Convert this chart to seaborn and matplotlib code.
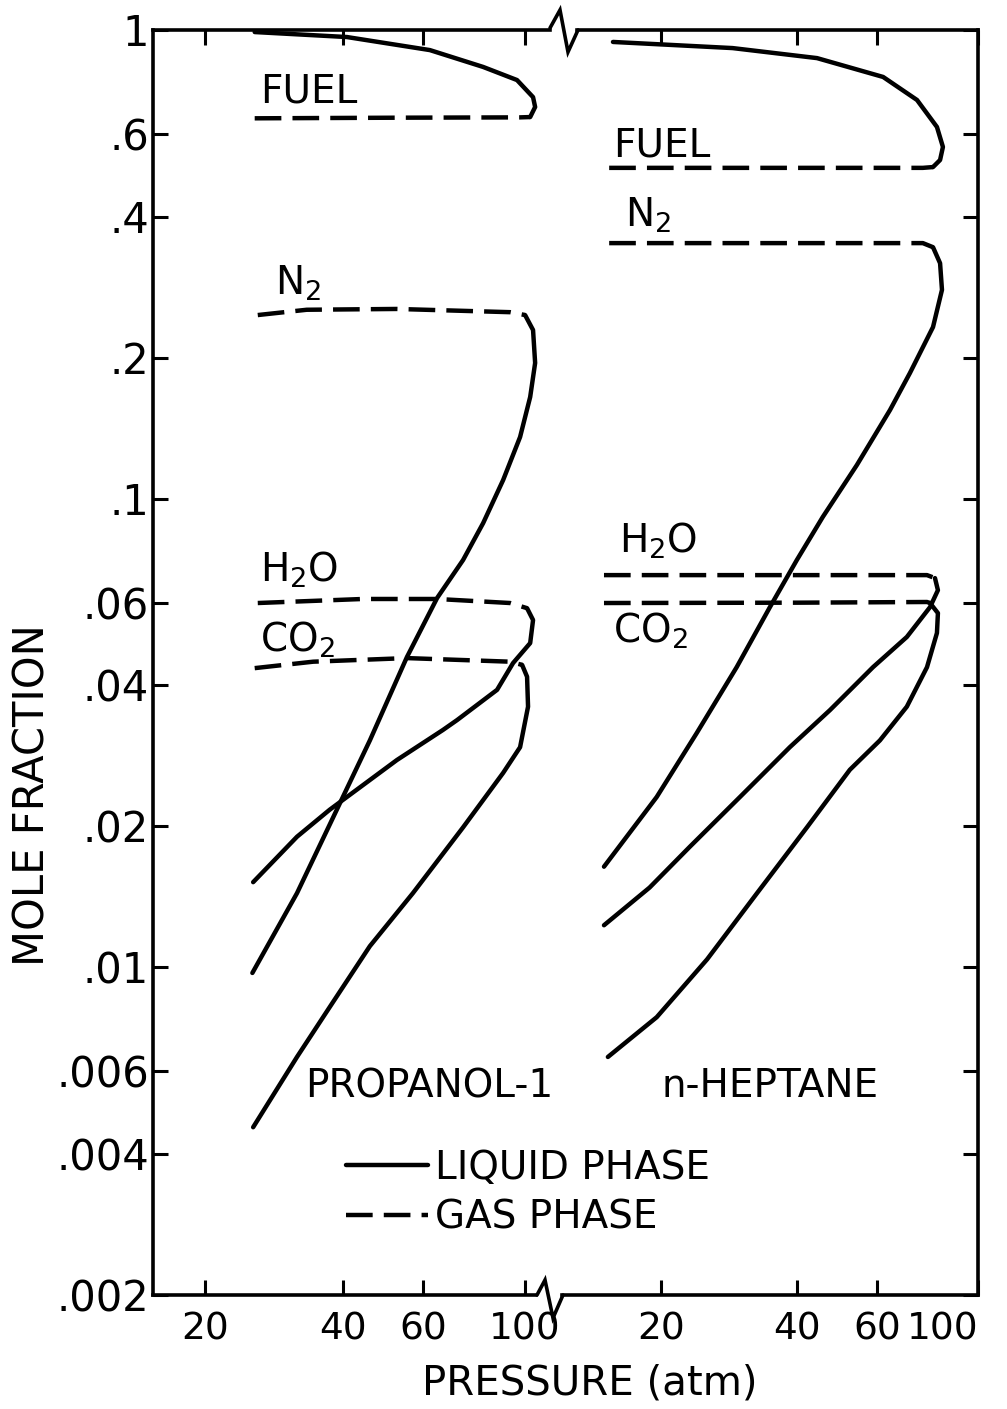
import numpy as np
import pandas as pd
import seaborn as sns
import matplotlib.pyplot as plt
from matplotlib.lines import Line2D
from matplotlib.ticker import NullLocator

# --- PROPANOL-1 : pressure (atm) / mole fraction ---
prop_fuel_liq_p = [25.7, 40.9, 62.1, 81.2, 96.3, 104.4, 105.5, 102.9]
prop_fuel_liq_y = [0.990, 0.966, 0.906, 0.834, 0.782, 0.719, 0.685, 0.652]
prop_fuel_gas_p = [25.7, 53.4, 97.8, 102.9]
prop_fuel_gas_y = [0.648, 0.650, 0.651, 0.652]

prop_n2_gas_p = [26.1, 33.4, 52.6, 93.0, 100.3]
prop_n2_gas_y = [0.2465, 0.253, 0.254, 0.250, 0.2465]
prop_n2_liq_p = [100.3, 104.4, 105.5, 102.9, 97.8, 89.8, 81.2, 73.4, 64.4, 55.3, 45.9, 31.8, 25.4]
prop_n2_liq_y = [0.2465, 0.229, 0.1948, 0.1648, 0.1354, 0.1096, 0.0887, 0.0740, 0.0614, 0.0459, 0.0305,
                 0.0144, 0.00973]

prop_h2o_gas_p = [26.1, 44.3, 64.4, 93.0, 101.3]
prop_h2o_gas_y = [0.0599, 0.0611, 0.0611, 0.0599, 0.0584]
prop_h2o_liq_p = [101.3, 104.4, 102.9, 94.4, 87.1, 71.2, 66.3, 52.6, 37.5, 31.8, 25.5]
prop_h2o_liq_y = [0.0584, 0.0551, 0.0492, 0.0446, 0.0391, 0.0337, 0.0321, 0.0277, 0.0217, 0.0190, 0.0152]

prop_co2_gas_p = [25.7, 34.5, 55.3, 93.0, 98.8]
prop_co2_gas_y = [0.0435, 0.0449, 0.0457, 0.0449, 0.0442]
prop_co2_liq_p = [98.8, 101.3, 101.8, 97.8, 89.8, 73.4, 57.0, 45.9, 37.5, 31.8, 25.5]
prop_co2_liq_y = [0.0442, 0.0417, 0.0360, 0.0295, 0.0260, 0.0199, 0.0144, 0.0111, 0.00823, 0.00644, 0.00456]

# --- n-HEPTANE ---
hept_fuel_liq_p = [15.7, 28.8, 44.2, 61.8, 73.4, 81.2, 83.7, 82.5, 79.6]
hept_fuel_liq_y = [0.943, 0.915, 0.871, 0.794, 0.709, 0.621, 0.563, 0.528, 0.510]
hept_fuel_gas_p = [15.4, 40.0, 75.6, 79.6]
hept_fuel_gas_y = [0.508, 0.508, 0.508, 0.510]

hept_n2_gas_p = [15.4, 40.0, 75.6, 79.6]
hept_n2_gas_y = [0.351, 0.351, 0.351, 0.344]
hept_n2_liq_p = [79.6, 82.5, 83.3, 79.6, 70.8, 64.0, 54.1, 45.5, 39.9, 34.8, 29.4, 24.0, 19.6, 15.0]
hept_n2_liq_y = [0.344, 0.318, 0.279, 0.2324, 0.1854, 0.1546, 0.1180, 0.0914, 0.0740, 0.0587, 0.0437,
                 0.0316, 0.0231, 0.0164]

hept_h2o_gas_p = [15.0, 40.0, 77.2, 80.4]
hept_h2o_gas_y = [0.0687, 0.0687, 0.0687, 0.0677]
hept_h2o_liq_p = [80.4, 81.6, 78.4, 69.7, 58.7, 47.2, 38.5, 29.9, 23.2, 18.9, 15.0]
hept_h2o_liq_y = [0.0677, 0.0638, 0.0587, 0.0507, 0.0437, 0.0354, 0.0295, 0.0231, 0.0181, 0.0148, 0.0123]

hept_co2_gas_p = [15.0, 40.0, 77.2, 78.4]
hept_co2_gas_y = [0.0599, 0.0600, 0.0602, 0.0599]
hept_co2_liq_p = [78.4, 81.6, 81.2, 77.2, 69.7, 60.8, 52.2, 42.0, 32.6, 25.3, 19.6, 15.3]
hept_co2_liq_y = [0.0599, 0.0570, 0.0517, 0.0437, 0.0360, 0.0305, 0.0264, 0.0199, 0.0144, 0.0104, 0.00783, 0.00644]

y_ticks = [1, 0.6, 0.4, 0.2, 0.1, 0.06, 0.04, 0.02, 0.01, 0.006, 0.004, 0.002]
y_labels = ['1', '.6', '.4', '.2', '.1', '.06', '.04', '.02', '.01', '.006', '.004', '.002']
x_ticks = [20, 40, 60, 100]
x_labels = ['20', '40', '60', '100']

sns.set_style("ticks")
plt.rcParams['font.family'] = ['DejaVu Sans']
for k in ('text.color', 'axes.labelcolor', 'xtick.color', 'ytick.color', 'axes.edgecolor'):
    plt.rcParams[k] = 'black'
FS = 28
W, H = 1007, 1409

fig = plt.figure(figsize=(W / 100, H / 100), dpi=100)
bot, top = 1 - 1295 / H, 1 - 30 / H
ax1 = fig.add_axes([153 / W, bot, (555 - 153) / W, top - bot])
ax2 = fig.add_axes([555 / W, bot, (978 - 555) / W, top - bot])

DASH = (0, (6, 2.5))


def curve(ax, p, y, dashed=False, label=None):
    sns.lineplot(x=p, y=y, ax=ax, sort=False, estimator=None, color='black', linewidth=3.2,
                 linestyle=DASH if dashed else '-', label=label)


for ax in (ax1, ax2):
    ax.set_xscale('log')
    ax.set_yscale('log')

curve(ax1, prop_fuel_liq_p, prop_fuel_liq_y, label='LIQUID PHASE')
curve(ax1, prop_fuel_gas_p, prop_fuel_gas_y, dashed=True, label='GAS PHASE')
curve(ax1, prop_n2_liq_p, prop_n2_liq_y)
curve(ax1, prop_n2_gas_p, prop_n2_gas_y, dashed=True)
curve(ax1, prop_h2o_liq_p, prop_h2o_liq_y)
curve(ax1, prop_h2o_gas_p, prop_h2o_gas_y, dashed=True)
curve(ax1, prop_co2_liq_p, prop_co2_liq_y)
curve(ax1, prop_co2_gas_p, prop_co2_gas_y, dashed=True)

curve(ax2, hept_fuel_liq_p, hept_fuel_liq_y)
curve(ax2, hept_fuel_gas_p, hept_fuel_gas_y, dashed=True)
curve(ax2, hept_n2_liq_p, hept_n2_liq_y)
curve(ax2, hept_n2_gas_p, hept_n2_gas_y, dashed=True)
curve(ax2, hept_h2o_liq_p, hept_h2o_liq_y)
curve(ax2, hept_h2o_gas_p, hept_h2o_gas_y, dashed=True)
curve(ax2, hept_co2_liq_p, hept_co2_liq_y)
curve(ax2, hept_co2_gas_p, hept_co2_gas_y, dashed=True)

h, l = ax1.get_legend_handles_labels()
for ax in (ax1, ax2):
    if ax.get_legend() is not None:
        ax.get_legend().remove()

ax1.set_xlim(15.4, 116.6)
ax2.set_xlim(11.7, 100)
for ax in (ax1, ax2):
    ax.set_ylim(0.002, 1)
    ax.set_yticks(y_ticks)
    ax.set_yticklabels(y_labels)
    ax.set_xticks(x_ticks)
    ax.set_xticklabels(x_labels)
    ax.xaxis.set_minor_locator(NullLocator())
    ax.yaxis.set_minor_locator(NullLocator())
    ax.tick_params(direction='in', length=11, width=2.2, top=True)
    ax.tick_params(axis='x', pad=12, labelsize=27)
    ax.tick_params(axis='y', pad=3, labelsize=30)
    for s in ax.spines.values():
        s.set_linewidth(2.6)
    ax.set_xlabel('')
    ax.set_ylabel('')
    ax.patch.set_alpha(0)

ax1.tick_params(right=False)
ax2.tick_params(left=False, labelleft=False, right=True)
ax1.spines['right'].set_visible(False)
ax2.spines['left'].set_visible(False)
ax1.spines['top'].set_bounds(15.4, 113.8)
ax1.spines['bottom'].set_bounds(15.4, 106.0)
ax2.spines['top'].set_bounds(13.1, 100)
ax2.spines['bottom'].set_bounds(12.1, 100)
ax2.get_xticklabels()[-1].set_horizontalalignment('right')

# axis break marks
for xs, ys in (([550, 560, 568, 578], [28, 10, 52, 30]),
               ([537, 545, 553, 563], [1295, 1280, 1318, 1295])):
    fig.add_artist(Line2D(np.array(xs) / W, 1 - np.array(ys) / H, color='black', lw=2.6,
                          transform=fig.transFigure, solid_joinstyle='miter'))

# curve labels
ax1.text(26.4, 0.699, 'FUEL', fontsize=FS, va='baseline')
ax1.text(28.5, 0.272, 'N$_2$', fontsize=FS, va='baseline')
ax1.text(26.4, 0.0664, 'H$_2$O', fontsize=FS, va='baseline')
ax1.text(26.4, 0.0471, 'CO$_2$', fontsize=FS, va='baseline')
ax1.text(33.1, 0.00529, 'PROPANOL-1', fontsize=FS, va='baseline')

ax2.text(15.7, 0.536, 'FUEL', fontsize=FS, va='baseline')
ax2.text(16.7, 0.380, 'N$_2$', fontsize=FS, va='baseline')
ax2.text(16.2, 0.0766, 'H$_2$O', fontsize=FS, va='baseline')
ax2.text(15.7, 0.0492, 'CO$_2$', fontsize=FS, va='baseline')
ax2.text(20.1, 0.00529, 'n-HEPTANE', fontsize=FS, va='baseline')

fig.legend(h, l, loc='upper left', bbox_to_anchor=(346 / W, 1 - 1149 / H), bbox_transform=fig.transFigure,
           frameon=False, fontsize=FS, handlelength=2.1, handletextpad=0.2, borderpad=0,
           borderaxespad=0, labelspacing=0.3)

fig.text(33 / W, 1 - 795 / H, 'MOLE FRACTION', rotation=90, ha='center', va='center', fontsize=30)
fig.text(590 / W, 1 - 1383 / H, 'PRESSURE (atm)', ha='center', va='center', fontsize=29)

fig.savefig('out.png', dpi=100)
